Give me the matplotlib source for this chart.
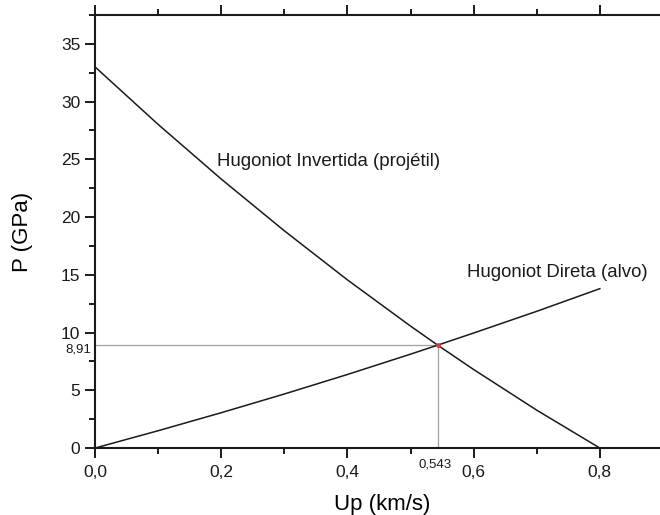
import numpy as np
import matplotlib.pyplot as plt
from matplotlib.ticker import MultipleLocator, FuncFormatter

plt.rcParams['font.family'] = ['Liberation Sans', 'DejaVu Sans']

# Hugoniot direta (alvo)
up_alvo = [0.0, 0.1, 0.2, 0.3, 0.4, 0.5, 0.543, 0.6, 0.7, 0.8]
p_alvo = [0.0, 1.50, 3.06, 4.68, 6.37, 8.13, 8.91, 9.96, 11.84, 13.80]

# Hugoniot invertida (projetil)
up_proj = [0.0, 0.1, 0.2, 0.3, 0.4, 0.5, 0.543, 0.6, 0.7, 0.8]
p_proj = [33.0, 28.02, 23.29, 18.81, 14.56, 10.56, 8.91, 6.80, 3.28, 0.0]

up_int = 0.543
p_int = 8.91

fig = plt.figure(figsize=(6.6, 5.15), dpi=100)
ax = fig.add_axes([0.144, 0.130, 0.9 * 631 / 660, 0.841])

ax.plot([0, up_int], [p_int, p_int], color='#a0a0a0', lw=0.9)
ax.plot([up_int, up_int], [0, p_int], color='#a0a0a0', lw=0.9)
ax.plot(up_alvo, p_alvo, color='#1a1a1a', lw=1.1)
ax.plot(up_proj, p_proj, color='#1a1a1a', lw=1.1)
ax.plot([up_int], [p_int], 'o', color='#d04040', ms=2.5)

ax.set_xlim(0, 0.9)
ax.set_ylim(0, 37.5)
ax.xaxis.set_major_locator(MultipleLocator(0.2))
ax.xaxis.set_minor_locator(MultipleLocator(0.1))
ax.yaxis.set_major_locator(MultipleLocator(5))
ax.yaxis.set_minor_locator(MultipleLocator(2.5))
ax.xaxis.set_major_formatter(FuncFormatter(lambda v, p: ('%.1f' % v).replace('.', ',')))

ax.tick_params(which='both', direction='out', top=True, width=1.4, labelsize=12.5, colors='#1a1a1a')
ax.tick_params(which='major', length=7)
ax.tick_params(which='minor', length=4.5)
ax.tick_params(axis='x', which='both', labeltop=False, pad=5)
for s in ax.spines.values():
    s.set_linewidth(1.5)
    s.set_color('#1a1a1a')

ax.set_xlabel('Up (km/s)', fontsize=16, labelpad=4)
ax.set_ylabel('P (GPa)', fontsize=16, labelpad=20)
ax.xaxis.set_label_coords(0.506, -0.105)

ax.text(-0.006, p_int - 0.35, '8,91', fontsize=9.5, ha='right', va='center', color='#1a1a1a')
ax.text(up_int - 0.004, -0.9, '0,543', fontsize=9.5, ha='center', va='top', color='#1a1a1a')

ax.text(0.193, 24.46, 'Hugoniot Invertida (projétil)', fontsize=13.4, color='#1a1a1a', va='baseline')
ax.text(0.5895, 14.78, 'Hugoniot Direta (alvo)', fontsize=13.4, color='#1a1a1a', va='baseline')

fig.savefig('out.png', dpi=100)
